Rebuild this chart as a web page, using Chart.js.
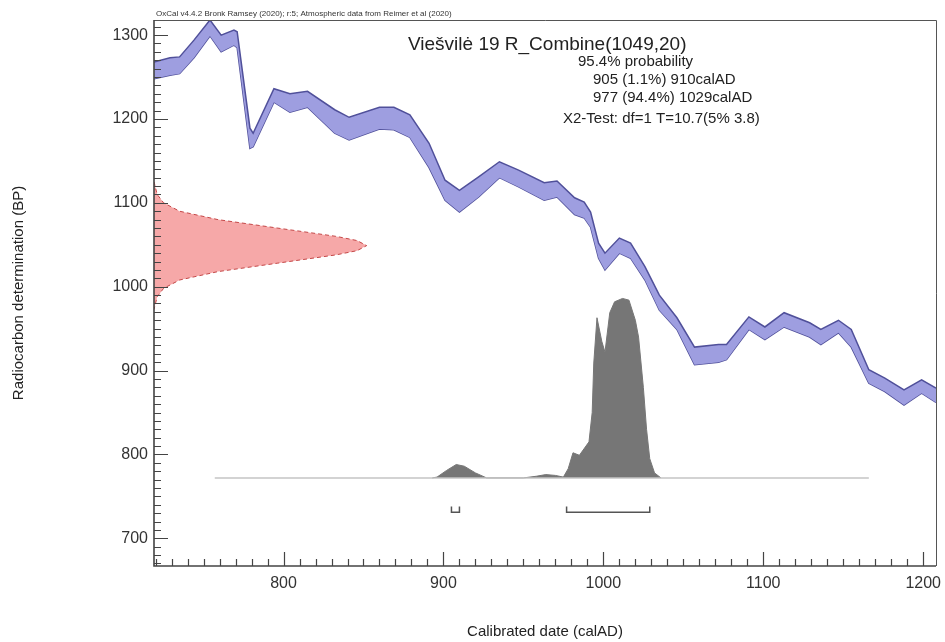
<!DOCTYPE html>
<html>
<head>
<meta charset="utf-8">
<script src="https://cdn.jsdelivr.net/npm/chart.js@4.4.1/dist/chart.umd.min.js"></script>
<style>
  html, body { margin: 0; padding: 0; background: #fff; }
</style>
</head>
<body>
<canvas id="chart" width="945" height="642"></canvas>
<script>
const FONT = '"Liberation Sans", Arial, sans-serif';

const xMin = 719, xMax = 1208;
const yMin = 667, yMax = 1318;
const xTickLabels = [800, 900, 1000, 1100, 1200];
const yTickLabels = [700, 800, 900, 1000, 1100, 1200, 1300];

// calibration curve band (upper / lower edge, BP)
const curveDate  = [719, 729, 735, 744, 754, 761, 769, 771, 779, 781, 794, 804, 815, 832, 841, 860, 869, 879, 891, 901, 910, 922, 935, 947, 963, 971, 982, 988, 992, 997, 1001, 1010, 1017, 1026, 1035, 1046, 1057, 1072, 1077, 1091, 1101, 1113, 1129, 1136, 1147, 1155, 1166, 1176, 1188, 1199, 1208];
const curveUpper = [1268, 1273, 1274, 1294, 1318, 1300, 1306, 1304, 1189, 1183, 1236, 1230, 1233, 1211, 1202, 1214, 1214, 1205, 1171, 1127, 1115, 1131, 1149, 1139, 1124, 1126, 1106, 1101, 1089, 1052, 1040, 1058, 1052, 1024, 990, 963, 928, 931, 931, 964, 952, 969, 957, 949, 960, 949, 901, 891, 877, 889, 879];
const curveLower = [1248, 1252, 1254, 1273, 1299, 1280, 1288, 1285, 1165, 1167, 1220, 1208, 1214, 1183, 1175, 1188, 1187, 1178, 1142, 1103, 1089, 1107, 1130, 1119, 1103, 1107, 1086, 1082, 1071, 1034, 1020, 1040, 1034, 1008, 972, 949, 907, 910, 913, 949, 937, 952, 940, 931, 945, 928, 885, 875, 859, 873, 862];

// measured date R_Combine(1049,20), drawn against the BP axis
const measBP    = [1125, 1110, 1100, 1090, 1080, 1070, 1060, 1055, 1049, 1043, 1038, 1028, 1018, 1008, 998, 988, 973];
const measWidth = [0, 2, 6, 16, 40, 77, 114, 127, 133, 127, 114, 77, 40, 16, 6, 2, 0];

// calibrated probability
const probDate = [893, 896, 902, 908, 913, 920, 927, 950, 958, 964, 970, 975, 978, 981, 985, 991, 993, 994, 996, 999, 1001, 1004, 1007, 1012, 1016, 1020, 1022, 1025, 1027, 1029, 1032, 1036];
const probBP   = [772, 773, 781, 788, 786, 778, 772, 772, 774, 776, 775, 773, 783, 802, 799, 815, 850, 909, 963, 935, 922, 969, 982, 986, 984, 960, 940, 880, 830, 795, 778, 772];
const probBase = 772;
const probLine = [757, 1166];

// 95.4% ranges
const rangeFrom = [905, 977];
const rangeTo   = [910, 1029];
const rangeBP = 731, rangeCapBP = 738;

const titleText = 'Viešvilė 19 R_Combine(1049,20)';
const noteLines = ['95.4% probability', '905 (1.1%) 910calAD', '977 (94.4%) 1029calAD', 'X2-Test: df=1 T=10.7(5% 3.8)'];
const headerText = 'OxCal v4.4.2 Bronk Ramsey (2020); r:5; Atmospheric data from Reimer et al (2020)';

const pts = (xs, ys) => xs.map((v, i) => ({ x: v, y: ys[i] }));

const rangeData = [];
rangeFrom.forEach((a, i) => {
  const b = rangeTo[i];
  rangeData.push({ x: a, y: rangeCapBP }, { x: a, y: rangeBP }, { x: b, y: rangeBP }, { x: b, y: rangeCapBP }, { x: b, y: null });
});

const oxcalFrame = {
  id: 'oxcalFrame',
  afterDatasetsDraw(chart) {
    const { ctx, chartArea: a, scales: { x, y } } = chart;
    ctx.save();
    ctx.strokeStyle = '#555';
    ctx.lineWidth = 1;
    ctx.beginPath();
    ctx.moveTo(a.left, a.top + 0.5); ctx.lineTo(a.right + 0.5, a.top + 0.5); ctx.lineTo(a.right + 0.5, a.bottom);
    ctx.stroke();

    ctx.strokeStyle = '#444';
    ctx.lineWidth = 1.6;
    ctx.beginPath();
    ctx.moveTo(a.left, a.top); ctx.lineTo(a.left, a.bottom); ctx.lineTo(a.right, a.bottom);
    ctx.stroke();

    ctx.lineWidth = 1.2;
    ctx.beginPath();
    for (let v = Math.ceil(xMin / 10) * 10; v <= xMax; v += 10) {
      const px = Math.round(x.getPixelForValue(v)) + 0.5;
      const len = v % 100 === 0 ? 14 : 7;
      ctx.moveTo(px, a.bottom); ctx.lineTo(px, a.bottom - len);
    }
    for (let v = Math.ceil(yMin / 10) * 10; v <= yMax; v += 10) {
      const py = Math.round(y.getPixelForValue(v)) + 0.5;
      const len = v % 100 === 0 ? 14 : 7;
      ctx.moveTo(a.left, py); ctx.lineTo(a.left + len, py);
    }
    ctx.stroke();
    ctx.restore();
  },
  afterDraw(chart) {
    const { ctx, chartArea: a } = chart;
    ctx.save();
    ctx.fillStyle = '#333';
    ctx.textBaseline = 'alphabetic';
    ctx.font = '8px ' + FONT;
    ctx.fillText(headerText, a.left + 2, a.top - 4);
    ctx.fillStyle = '#222';
    ctx.font = '19px ' + FONT;
    ctx.fillText(titleText, 408, 50);
    ctx.font = '15px ' + FONT;
    const nx = [578, 593, 593, 563];
    const ny = [66, 84, 102, 123];
    noteLines.forEach((t, i) => ctx.fillText(t, nx[i], ny[i]));
    ctx.restore();
  }
};

new Chart(document.getElementById('chart'), {
  type: 'line',
  data: {
    datasets: [
      {
        data: pts(curveDate, curveUpper),
        borderColor: '#50509a', borderWidth: 1.5,
        backgroundColor: 'rgb(158,158,224)',
        fill: '+1'
      },
      {
        data: pts(curveDate, curveLower),
        borderColor: '#50509a', borderWidth: 1.5,
        fill: false
      },
      {
        data: pts(probLine, [probBase, probBase]),
        borderColor: '#c4c4c4', borderWidth: 1.5,
        fill: false
      },
      {
        data: pts(probDate, probBP),
        borderColor: 'rgb(118,118,118)', borderWidth: 1,
        backgroundColor: 'rgb(118,118,118)',
        fill: { value: probBase }
      },
      {
        data: measBP.map((v, i) => ({ x: xMin + measWidth[i], y: v })),
        borderColor: 'rgb(196,70,70)', borderWidth: 1,
        borderDash: [4, 3],
        backgroundColor: 'rgb(246,168,168)',
        fill: 'shape'
      },
      {
        data: rangeData,
        borderColor: '#555', borderWidth: 1.5,
        spanGaps: false,
        fill: false
      }
    ]
  },
  options: {
    responsive: false,
    animation: false,
    layout: { padding: { left: 6, right: 9, top: 20, bottom: 0 } },
    elements: { point: { radius: 0 }, line: { tension: 0 } },
    plugins: { legend: { display: false }, tooltip: { enabled: false } },
    scales: {
      x: {
        type: 'linear', min: xMin, max: xMax,
        grid: { display: false, drawTicks: false },
        border: { display: false },
        ticks: { font: { family: FONT, size: 16 }, color: '#333', padding: 8, maxRotation: 0, callback: v => String(v) },
        afterBuildTicks: s => { s.ticks = xTickLabels.map(v => ({ value: v })); },
        afterFit: s => { s.height = 76; s.paddingLeft = 0; s.paddingRight = 0; },
        title: { display: true, text: 'Calibrated date (calAD)', font: { family: FONT, size: 15 }, color: '#222', padding: { top: 4, bottom: 1 } }
      },
      y: {
        type: 'linear', min: yMin, max: yMax,
        grid: { display: false, drawTicks: false },
        border: { display: false },
        ticks: { font: { family: FONT, size: 16 }, color: '#333', padding: 6, callback: v => String(v) },
        afterBuildTicks: s => { s.ticks = yTickLabels.map(v => ({ value: v })); },
        afterFit: s => { s.width = 148; s.paddingTop = 0; s.paddingBottom = 0; },
        title: { display: true, text: 'Radiocarbon determination (BP)', font: { family: FONT, size: 15 }, color: '#222', padding: { top: 4, bottom: 0 } }
      }
    }
  },
  plugins: [oxcalFrame]
});
</script>
</body>
</html>
